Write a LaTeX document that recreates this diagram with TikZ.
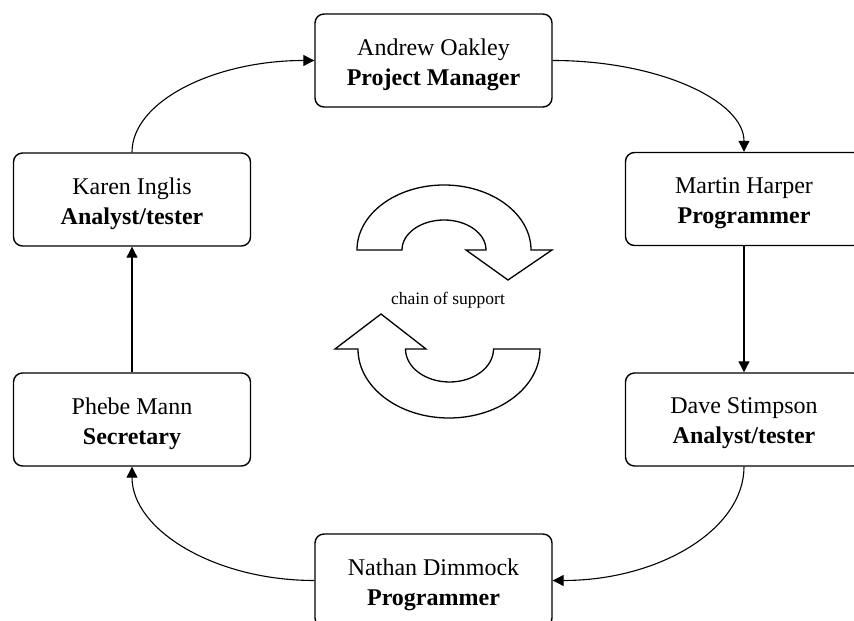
\documentclass[tikz,border=0pt]{standalone}
\usepackage{fontspec}
\setmainfont{Liberation Serif}
\usetikzlibrary{arrows.meta}
\begin{document}
\begin{tikzpicture}[x=1pt,y=1pt,
  person/.style 2 args={draw, line width=1.4pt, rounded corners=9pt, minimum width=237pt,
    minimum height=93pt, inner sep=0pt, fill=white,
    label={[yshift=-4pt,align=center,font=\fontsize{24}{30}\selectfont]center:{#1\\\textbf{#2}}}},
  conn/.style={line width=1.1pt, -{Triangle[length=11pt,width=11pt]}},
  bigarrow/.style={line width=1.3pt, line join=miter, fill=white}]
\useasboundingbox (0,0) rectangle (854,621);
\clip (0,0) rectangle (854,621);
\fill[white] (0,0) rectangle (854,621);

\node[person={Andrew Oakley}{Project Manager}] (A) at (433.5,560.5) {};
\node[person={Karen Inglis}{Analyst/tester}] (K) at (132,421.5) {};
\node[person={Martin Harper}{Programmer}] (M) at (744,422) {};
\node[person={Dave Stimpson}{Analyst/tester}] (D) at (744,201.5) {};
\node[person={Phebe Mann}{Secretary}] (P) at (132,201.5) {};
\node[person={Nathan Dimmock}{Programmer}] (N) at (433.5,40.5) {};

\draw[conn] (K.north) to[out=90,in=180,out distance=51pt,in distance=100pt] (A.west);
\draw[conn] (A.east) to[out=0,in=90,out distance=106pt,in distance=51pt] (M.north);
\draw[conn] (M.south) -- (D.north);
\draw[conn] (D.south) to[out=-90,in=0,out distance=63pt,in distance=106pt] (N.east);
\draw[conn] (N.west) to[out=180,in=-90,out distance=100pt,in distance=63pt] (P.south);
\draw[conn] (P.north) -- (K.south);

% upper circular arrow
\draw[bigarrow] (357,371) arc[start angle=180,end angle=0,x radius=87pt,y radius=65pt]
  -- (552,371) -- (508,341) -- (466,371) -- (486,371)
  arc[start angle=0,end angle=180,x radius=42pt,y radius=30pt] -- cycle;
% lower circular arrow
\draw[bigarrow] (540,272) arc[start angle=0,end angle=-180,x radius=91pt,y radius=69pt]
  -- (335,272) -- (381,307) -- (426,272) -- (405.5,272)
  arc[start angle=180,end angle=360,x radius=44pt,y radius=33pt] -- cycle;

\node[font=\fontsize{17.5}{20}\selectfont] (chain) at (448,321) {chain of support};
\end{tikzpicture}
\end{document}
